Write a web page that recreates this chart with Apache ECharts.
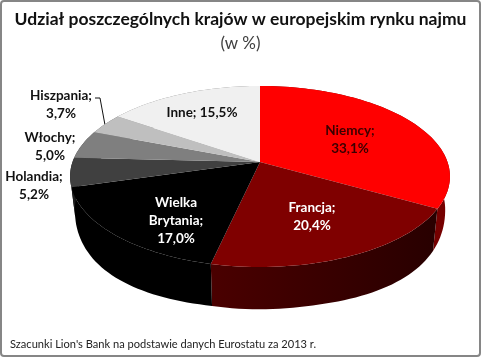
<!DOCTYPE html>
<html>
<head>
<meta charset="utf-8">
<style>
html,body{margin:0;padding:0;background:#fff}
#chart{width:481px;height:358px}
</style>
<script src="https://cdn.jsdelivr.net/npm/echarts@6/dist/echarts.min.js"></script>
</head>
<body>
<div id="chart"></div>
<script>
// dane z wykresu
var labels = ['Niemcy;', 'Francja;', 'Wielka\nBrytania;', 'Holandia;', 'Włochy;', 'Hiszpania;', 'Inne;'];
var values = [33.1, 20.4, 17.0, 5.2, 5.0, 3.7, 15.5];

var topColors = ['#ff0000', '#7f0000', '#000000', '#404040', '#7f7f7f', '#bfbfbf', '#f0f0f0'];
var sideColors = [
  '#760000',
  {type: 'linear', x: 0, y: 0, x2: 1, y2: 0, colorStops: [{offset: 0, color: '#4a0000'}, {offset: 1, color: '#280000'}]},
  '#000000', '#1c1c1c', '#3a3a3a', '#5a5a5a', '#707070'
];
var textColors = ['#3a0000', '#ffffff', '#ffffff', '#111111', '#111111', '#111111', '#111111'];
// srodki etykiet w pikselach
var labelX = [350, 312, 176, 34, 50, 61, 202];
var labelY = [140, 217, 221, 186, 147, 105, 113];

var FONT = 'Lato, "Open Sans", sans-serif';
var total = values.reduce(function (a, b) { return a + b; }, 0);

// rzut kola na ekran z perspektywa
var cx = 260, cy = 162, A = 187.5, B = 88.2, K = 0.16;
function rim(p) {
  var a = p * 2 * Math.PI, u = Math.sin(a), v = -Math.cos(a), w = 1 - K * v;
  return [cx + A * u / w, cy + B * v / w];
}
function lower(pt) {
  var t = Math.max(0, Math.min(1, (pt[1] - 176) / 88));
  return [cx + (pt[0] - cx) * 0.975, pt[1] * 1.1 + 15.6 + 24 * t * (1 - t)];
}
function arc(from, to) {
  var pts = [], n = Math.max(2, Math.ceil((to - from) * 200));
  for (var i = 0; i <= n; i++) pts.push(rim(from + (to - from) * i / n));
  return pts;
}
function startOf(i) {
  var s = 0;
  for (var j = 0; j < i; j++) s += values[j];
  return s / total;
}

function renderSide(params, api) {
  var i = params.dataIndex, from = startOf(i), to = from + api.value(1) / total;
  var top = arc(from, to);
  var bottom = top.map(lower).reverse();
  return {
    type: 'polygon',
    shape: {points: top.concat(bottom)},
    style: {fill: sideColors[i]}
  };
}

function renderTop(params, api) {
  var i = params.dataIndex, from = startOf(i), to = from + api.value(1) / total;
  return {
    type: 'polygon',
    shape: {points: [[cx, cy]].concat(arc(from, to))},
    style: {fill: topColors[i]}
  };
}

function renderLabel(params, api) {
  var i = params.dataIndex;
  return {
    type: 'text',
    x: labelX[i],
    y: labelY[i],
    style: {
      text: labels[i] + (i === 6 ? ' ' : '\n') + api.value(1).toFixed(1).replace('.', ',') + '%',
      fill: textColors[i],
      font: 'bold 13.5px ' + FONT,
      lineHeight: 18,
      align: 'center',
      verticalAlign: 'middle'
    }
  };
}

var seriesData = values.map(function (v, i) { return [i, v]; });
var myChart = echarts.init(document.getElementById('chart'));
myChart.setOption({
  animation: false,
  backgroundColor: '#fff',
  title: [
    {
      text: 'Udział poszczególnych krajów w europejskim rynku najmu',
      left: 'center', top: 5,
      textStyle: {fontFamily: FONT, fontSize: 17.5, fontWeight: 'bold', color: '#111'}
    },
    {
      text: '(w %)',
      left: 'center', top: 30,
      textStyle: {fontFamily: FONT, fontSize: 17, fontWeight: 'normal', color: '#404040'}
    },
    {
      text: "Szacunki Lion's Bank na podstawie danych Eurostatu za 2013 r.",
      left: 5, top: 334,
      textStyle: {fontFamily: FONT, fontSize: 11.1, fontWeight: 'normal', color: '#222'}
    }
  ],
  graphic: [
    {
      type: 'rect', silent: true, z: -1,
      shape: {x: 1, y: 1, width: 479, height: 355, r: 3},
      style: {fill: 'none', stroke: '#868686', lineWidth: 2}
    },
    {
      type: 'polyline', silent: true,
      shape: {points: [[95, 98], [100, 98], [105, 125]]},
      style: {fill: 'none', stroke: '#111', lineWidth: 1}
    }
  ],
  series: [
    {type: 'custom', coordinateSystem: 'none', silent: true, data: seriesData, renderItem: renderSide, z: 1},
    {type: 'custom', coordinateSystem: 'none', silent: true, data: seriesData, renderItem: renderTop, z: 2},
    {type: 'custom', coordinateSystem: 'none', silent: true, data: seriesData, renderItem: renderLabel, z: 3}
  ]
});
</script>
</body>
</html>
